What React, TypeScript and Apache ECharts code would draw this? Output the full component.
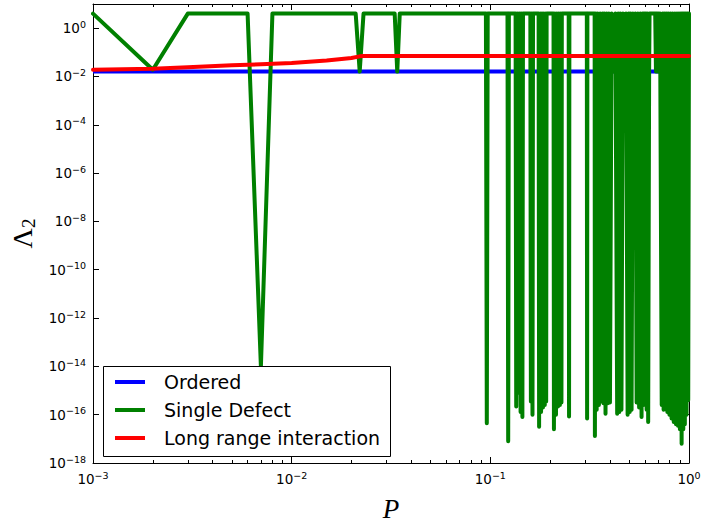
import React, { useEffect, useRef } from 'react';
import * as echarts from 'echarts';

// ---------- data ----------
const seriesNames = ['Ordered', 'Single Defect', 'Long range interaction'];
const seriesColors = ['#0000ff', '#008000', '#ff0000'];

const orderedP = [0.001, 1];
const orderedV = [0.016, 0.016];

const longRangeP = [0.001, 0.002, 0.003, 0.005, 0.007, 0.01, 0.015, 0.02, 0.022, 0.023, 1];
const longRangeV = [0.019, 0.021, 0.024, 0.029, 0.032, 0.036, 0.046, 0.058, 0.068, 0.07, 0.07];

const defectP = [
  0.001, 0.002, 0.003, 0.006, 0.007, 0.008, 0.021, 0.022, 0.023, 0.033, 0.034, 0.035,
  0.095, 0.096, 0.097, 0.122, 0.123, 0.124,
  0.134, 0.135, 0.137, 0.139, 0.140, 0.142, 0.143, 0.145, 0.146,
  0.159, 0.160, 0.161, 0.163, 0.164,
  0.175, 0.176, 0.178, 0.180, 0.182, 0.184, 0.186, 0.188, 0.189, 0.191, 0.192,
  0.208, 0.209, 0.211, 0.214, 0.216, 0.219, 0.221, 0.224, 0.226, 0.228, 0.229,
  0.248, 0.249, 0.250, 0.306, 0.307, 0.308,
  0.335, 0.336, 0.339, 0.343, 0.347, 0.352, 0.357, 0.363, 0.367, 0.371, 0.375, 0.380, 0.385, 0.390, 0.395, 0.400,
  0.408, 0.417, 0.426,
  0.435, 0.440, 0.446, 0.451, 0.457,
  0.465, 0.474, 0.482,
  0.491, 0.497, 0.503, 0.508, 0.514, 0.522, 0.530, 0.537, 0.545, 0.553, 0.561, 0.569, 0.577, 0.584, 0.590, 0.595, 0.600, 0.606, 0.612, 0.618, 0.623,
  0.630, 0.633, 0.676, 0.682, 0.688, 0.695, 0.701, 0.708, 0.715,
  0.729, 0.737, 0.745, 0.753, 0.762, 0.770, 0.778, 0.787, 0.797, 0.807, 0.817, 0.827, 0.838, 0.849, 0.860, 0.870,
  0.880, 0.890, 0.900, 0.909, 0.918, 0.927, 0.936, 0.944, 0.953, 0.962, 0.972, 0.981, 0.991, 1.0,
];
const defectV = [
  4, 0.019, 4, 4, 1e-14, 4, 4, 0.016, 4, 4, 0.016, 4,
  4, 4.4e-17, 4, 4, 8e-18, 4,
  4, 2.2e-16, 4, 8e-16, 4, 1.3e-16, 4, 8e-17, 4,
  4, 3.5e-16, 4, 1e-16, 4,
  4, 3.2e-17, 4, 1.3e-16, 4, 2e-16, 4, 2.5e-16, 4, 3.5e-16, 4,
  4, 2.5e-17, 4, 1e-16, 4, 2.2e-16, 4, 2.5e-16, 4, 3.2e-16, 4,
  4, 8.5e-17, 4, 4, 7e-17, 4,
  4, 1.3e-17, 4, 1.6e-16, 4, 2.5e-16, 4, 3.5e-16, 4, 3e-16, 4, 1.1e-16, 4, 3e-16, 4, 3.2e-16,
  4, 0.016, 4,
  1.1e-16, 4, 1.3e-16, 4, 1.6e-16,
  4, 0.016, 4,
  1e-16, 4, 1.3e-16, 4, 1.6e-16, 4, 0.016, 4, 3.2e-16, 4, 2e-16, 4, 8e-17, 4, 2.5e-16, 4, 5e-16, 4, 1.6e-16, 4, 5e-17,
  0.016, 4, 4, 0.016, 4, 0.016, 4, 0.016, 4,
  2.5e-16, 4, 1.6e-16, 4, 2e-16, 4, 1.3e-16, 4, 1e-16, 4, 7e-17, 4, 5e-17, 4, 4e-17, 4,
  3.5e-17, 4, 2.5e-17, 4, 6.3e-18, 4, 2.5e-17, 4, 4e-17, 4, 1e-16, 4, 4e-16, 4,
];

const xTickExponents = [-3, -2, -1, 0];
const yTickExponents = [-18, -16, -14, -12, -10, -8, -6, -4, -2, 0];

// ---------- chart ----------
const SANS = 'DejaVu Sans';
const SERIF = 'Liberation Serif';

const tickRich = {
  b: { fontFamily: SANS, fontSize: 13.5, color: '#000', lineHeight: 18 },
  s: { fontFamily: SANS, fontSize: 9.5, color: '#000', lineHeight: 6, verticalAlign: 'top' },
};

const powLabel = (allowed: number[]) => (v: number) => {
  const e = Math.round(Math.log10(v));
  if (!allowed.includes(e)) return '';
  const exp = e < 0 ? `\u2212${-e}` : `${e}`;
  return `{b|10}{s|${exp}}`;
};

const pairs = (xs: number[], ys: number[]) => xs.map((x, i) => [x, ys[i]]);

export default function App() {
  const ref = useRef<HTMLDivElement>(null);

  useEffect(() => {
    if (!ref.current) return;
    const chart = echarts.init(ref.current, undefined, { renderer: 'svg' });
    const yTickValues = yTickExponents.map((e) => Math.pow(10, e));
    const frameLine = { show: true, onZero: false, lineStyle: { color: '#000', width: 1 } };

    const xBase = {
      type: 'log',
      logBase: 10,
      min: Math.pow(10, xTickExponents[0]),
      max: Math.pow(10, xTickExponents[xTickExponents.length - 1]),
      gridIndex: 0,
      axisLine: frameLine,
      axisTick: { show: true, inside: true, length: 6, lineStyle: { color: '#000', width: 1 } },
      minorTick: { show: true, splitNumber: 9, length: 3, lineStyle: { color: '#000', width: 1 } },
      splitLine: { show: false },
      minorSplitLine: { show: false },
    };
    const yBase = {
      type: 'log',
      logBase: 10,
      min: 1e-18,
      max: 10,
      interval: 2,
      gridIndex: 0,
      axisLine: frameLine,
      axisTick: { show: true, inside: true, length: 6, customValues: yTickValues, lineStyle: { color: '#000', width: 1 } },
      minorTick: { show: false },
      splitLine: { show: false },
    };

    chart.setOption({
      animation: false,
      backgroundColor: '#fff',
      grid: { left: 93, top: 4, width: 596, height: 461, containLabel: false },
      legend: {
        data: seriesNames,
        orient: 'vertical',
        left: 115,
        top: 372,
        padding: 0,
        itemGap: 8,
        itemWidth: 30,
        itemHeight: 4,
        icon: 'rect',
        selectedMode: false,
        z: 6,
        textStyle: { fontFamily: SANS, fontSize: 19, color: '#000', lineHeight: 20, padding: [0, 0, 0, 14] },
      },
      graphic: [
        {
          type: 'rect',
          z: 5,
          shape: { x: 103.5, y: 366.5, width: 287, height: 90 },
          style: { fill: '#fff', stroke: '#000', lineWidth: 1 },
        },
      ],
      xAxis: [
        {
          ...xBase,
          position: 'bottom',
          axisLabel: { show: true, margin: 7, formatter: powLabel(xTickExponents), rich: tickRich },
          name: 'P',
          nameLocation: 'middle',
          nameGap: 32,
          nameTextStyle: { fontFamily: SERIF, fontStyle: 'italic', fontSize: 27, color: '#000' },
        },
        { ...xBase, position: 'top', axisLabel: { show: false } },
      ],
      yAxis: [
        {
          ...yBase,
          position: 'left',
          axisLabel: {
            show: true,
            margin: 7,
            customValues: yTickValues,
            formatter: powLabel(yTickExponents),
            rich: tickRich,
          },
          name: '{a|Λ}{c|2}',
          nameLocation: 'middle',
          nameGap: 53,
          nameRotate: 90,
          nameTextStyle: {
            rich: {
              a: { fontFamily: SERIF, fontSize: 28, color: '#000', lineHeight: 30 },
              c: { fontFamily: SERIF, fontSize: 19, color: '#000', lineHeight: 16, verticalAlign: 'bottom' },
            },
          },
        },
        { ...yBase, position: 'right', axisLabel: { show: false } },
      ],
      series: [
        {
          name: seriesNames[0],
          type: 'line',
          data: pairs(orderedP, orderedV),
          symbol: 'none',
          showSymbol: false,
          silent: true,
          itemStyle: { color: seriesColors[0] },
          lineStyle: { color: seriesColors[0], width: 4 },
        },
        {
          name: seriesNames[1],
          type: 'line',
          data: pairs(defectP, defectV),
          symbol: 'none',
          showSymbol: false,
          silent: true,
          itemStyle: { color: seriesColors[1] },
          lineStyle: { color: seriesColors[1], width: 4, cap: 'round', join: 'round' },
        },
        {
          name: seriesNames[2],
          type: 'line',
          data: pairs(longRangeP, longRangeV),
          symbol: 'none',
          showSymbol: false,
          silent: true,
          itemStyle: { color: seriesColors[2] },
          lineStyle: { color: seriesColors[2], width: 4, cap: 'round', join: 'round' },
        },
      ],
    });

    return () => chart.dispose();
  }, []);

  return (
    <div
      ref={ref}
      style={{ position: 'absolute', left: 0, top: 0, width: 704, height: 527, background: '#fff' }}
    />
  );
}
